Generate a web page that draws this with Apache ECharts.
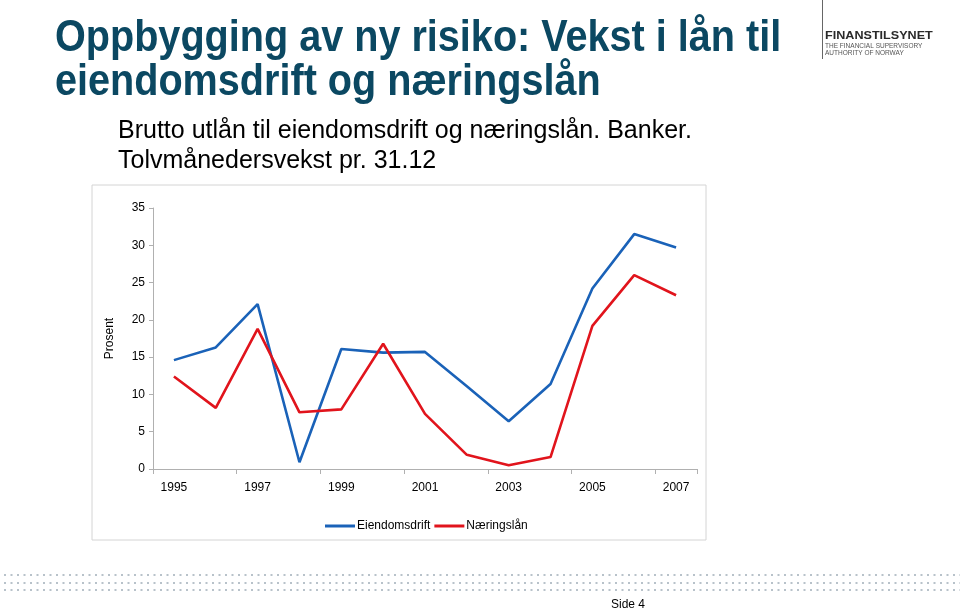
<!DOCTYPE html>
<html>
<head>
<meta charset="utf-8">
<script src="https://cdn.jsdelivr.net/npm/echarts@6/dist/echarts.min.js"></script>
<style>
html,body{margin:0;padding:0;background:#fff;}
#chart{width:960px;height:611px;}
</style>
</head>
<body>
<div id="chart"></div>
<script>
var years = ['1995','1996','1997','1998','1999','2000','2001','2002','2003','2004','2005','2006','2007'];
var eiendomsdrift = [14.6, 16.3, 22.1, 0.9, 16.1, 15.6, 15.7, 11.1, 6.4, 11.4, 24.2, 31.5, 29.7];
var naeringslan = [12.4, 8.2, 18.8, 7.6, 8.0, 16.8, 7.4, 1.9, 0.5, 1.6, 19.2, 26.0, 23.3];
var seriesNames = ['Eiendomsdrift', 'Næringslån'];
var yAxisName = 'Prosent';
var titleLines = ['Oppbygging av ny risiko: Vekst i lån til', 'eiendomsdrift og næringslån'];
var subtitleLines = ['Brutto utlån til eiendomsdrift og næringslån. Banker.', 'Tolvmånedersvekst pr. 31.12'];
var logoLines = ['FINANSTILSYNET', 'THE FINANCIAL SUPERVISORY', 'AUTHORITY OF NORWAY'];
var pageLabel = 'Side 4';

var chart = echarts.init(document.getElementById('chart'), null, {renderer: 'canvas'});
var FONT = '"Liberation Sans", Arial, sans-serif';
var titleColor = '#0b4862';

var graphics = [
  {type: 'rect', shape: {x: 92, y: 185, width: 614, height: 355}, style: {fill: '#fff', stroke: '#d4d4d4', lineWidth: 1}, z: -10},
  {type: 'text', x: 55, y: 39, scaleX: 0.9, style: {text: titleLines[0], font: 'bold 44px ' + FONT, fill: titleColor, textVerticalAlign: 'middle'}},
  {type: 'text', x: 55, y: 83, scaleX: 0.9, style: {text: titleLines[1], font: 'bold 44px ' + FONT, fill: titleColor, textVerticalAlign: 'middle'}},
  {type: 'text', x: 118, y: 131, style: {text: subtitleLines[0], font: '25px ' + FONT, fill: '#000', textVerticalAlign: 'middle'}},
  {type: 'text', x: 118, y: 161, style: {text: subtitleLines[1], font: '25px ' + FONT, fill: '#000', textVerticalAlign: 'middle'}},
  {type: 'line', shape: {x1: 822.5, y1: 0, x2: 822.5, y2: 59}, style: {stroke: '#666', lineWidth: 1}},
  {type: 'text', x: 825, y: 36, scaleX: 1.26, style: {text: logoLines[0], font: 'bold 10px ' + FONT, fill: '#2a2a2a', textVerticalAlign: 'middle'}},
  {type: 'text', x: 825, y: 46, scaleX: 0.93, style: {text: logoLines[1], font: '7px ' + FONT, fill: '#555', textVerticalAlign: 'middle'}},
  {type: 'text', x: 825, y: 53, scaleX: 0.93, style: {text: logoLines[2], font: '7px ' + FONT, fill: '#555', textVerticalAlign: 'middle'}},
  {type: 'text', x: 611, y: 605, style: {text: pageLabel, font: '12px ' + FONT, fill: '#000', textVerticalAlign: 'middle'}}
];
[575, 583, 590].forEach(function (yy) {
  graphics.push({type: 'line', shape: {x1: 4, y1: yy, x2: 960, y2: yy}, style: {stroke: '#b8c2ca', lineWidth: 2, lineDash: [2, 4.5]}});
});

chart.setOption({
  backgroundColor: '#fff',
  animation: false,
  graphic: graphics,
  grid: {left: 153, right: 263, top: 208, bottom: 142},
  legend: {
    data: seriesNames,
    left: 320, top: 515,
    icon: 'rect', itemWidth: 30, itemHeight: 3, itemGap: 4,
    textStyle: {fontFamily: FONT, fontSize: 12, color: '#000', padding: [0, 0, 0, -3]}
  },
  xAxis: {
    type: 'category', data: years, boundaryGap: true,
    axisLine: {lineStyle: {color: '#b0b0b0'}},
    axisTick: {show: true, length: 5, lineStyle: {color: '#b0b0b0'}},
    axisLabel: {interval: 1, margin: 13, fontFamily: FONT, fontSize: 12, color: '#000'},
    splitLine: {show: false}
  },
  yAxis: {
    type: 'value', min: 0, max: 35, interval: 5,
    name: yAxisName, nameLocation: 'middle', nameGap: 37,
    nameTextStyle: {fontFamily: FONT, fontSize: 12, color: '#000'},
    axisLine: {show: true, lineStyle: {color: '#b0b0b0'}},
    axisTick: {show: true, length: 4, lineStyle: {color: '#b0b0b0'}},
    axisLabel: {margin: 8, fontFamily: FONT, fontSize: 12, color: '#000'},
    splitLine: {show: false}
  },
  series: [
    {name: seriesNames[0], type: 'line', data: eiendomsdrift, symbol: 'none', lineStyle: {color: '#1a62b8', width: 2.6}, itemStyle: {color: '#1a62b8'}},
    {name: seriesNames[1], type: 'line', data: naeringslan, symbol: 'none', lineStyle: {color: '#e1141c', width: 2.6}, itemStyle: {color: '#e1141c'}}
  ]
});
</script>
</body>
</html>
